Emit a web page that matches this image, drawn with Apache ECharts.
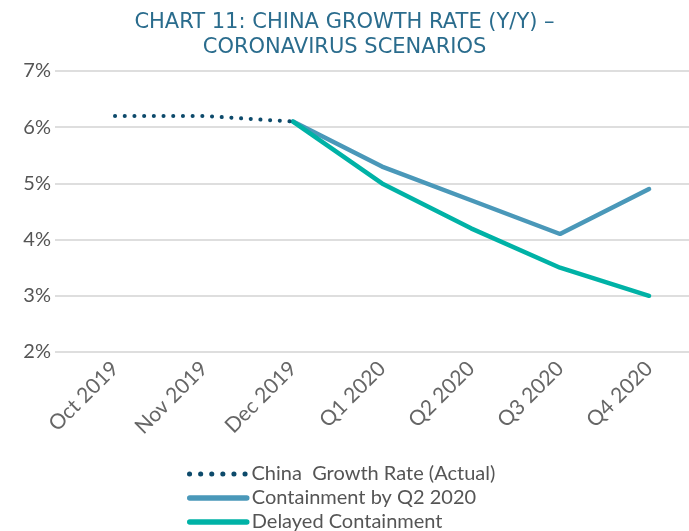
<!DOCTYPE html>
<html>
<head>
<meta charset="utf-8">
<script src="https://cdn.jsdelivr.net/npm/echarts@6/dist/echarts.min.js"></script>
<style>
  html, body { margin: 0; padding: 0; background: #fff; }
  #chart { width: 689px; height: 531px; }
</style>
</head>
<body>
<div id="chart"></div>
<script>
// categories + values
const categories = ['Oct 2019', 'Nov 2019', 'Dec 2019', 'Q1 2020', 'Q2 2020', 'Q3 2020', 'Q4 2020']
const actual = [6.2, 6.2, 6.1, null, null, null, null]
const containment = [null, null, 6.1, 5.3, 4.7, 4.1, 4.9]
const delayed = [null, null, 6.1, 5.0, 4.2, 3.5, 3.0]
const yTicks = [2, 3, 4, 5, 6, 7]
const seriesNames = ['China  Growth Rate (Actual)', 'Containment by Q2 2020', 'Delayed Containment']
const colors = ['#0d4a6b', '#4a98b9', '#00b2a6']

const font = 'Lato, "Noto Sans", sans-serif'

// value x axis so the grid lines can run past the first/last point like the original
const toPairs = arr => arr.map((v, i) => [i, v]).filter(p => p[1] != null)

// one legend per row, otherwise echarts wraps them into columns at the bottom edge
const legends = seriesNames.map((name, i) => ({
  orient: 'vertical',
  left: 182,
  top: 459 + i * 24,
  itemWidth: 57,
  itemHeight: 6,
  itemGap: 0,
  itemStyle: { opacity: 0 },
  lineStyle: i === 0
    ? { width: 5, type: [0.1, 11], cap: 'round' }
    : { width: 5.5, cap: 'round' },
  textStyle: { fontFamily: font, fontSize: 20, color: '#555', padding: 0 },
  data: [name]
}))

const chart = echarts.init(document.getElementById('chart'), null, { renderer: 'canvas' })
chart.setOption({
  animation: false,
  title: {
    text: 'CHART 11: CHINA GROWTH RATE (Y/Y) \u2013\nCORONAVIRUS SCENARIOS',
    left: 'center',
    top: 5,
    textStyle: {
      fontFamily: '"DejaVu Sans", sans-serif',
      fontWeight: 'normal',
      fontSize: 21,
      lineHeight: 25,
      color: '#2a6c8d'
    }
  },
  legend: legends,
  grid: { left: 55, right: 0, top: 71, bottom: 179 },
  xAxis: {
    type: 'value',
    min: -0.674,
    max: 6.449,
    splitLine: { show: false },
    axisLine: { show: false },
    axisTick: { show: false },
    axisLabel: {
      customValues: categories.map((c, i) => i),
      formatter: v => categories[v] || '',
      rotate: 45,
      margin: 13,
      fontFamily: font,
      fontSize: 21,
      color: '#666'
    }
  },
  yAxis: {
    type: 'value',
    min: yTicks[0],
    max: yTicks[yTicks.length - 1],
    interval: 1,
    axisLine: { show: false },
    axisTick: { show: false },
    axisLabel: {
      formatter: '{value}%',
      margin: 4,
      fontFamily: font,
      fontSize: 20,
      color: '#555'
    },
    splitLine: { lineStyle: { color: '#dedede', width: 2 } }
  },
  series: [
    {
      name: seriesNames[0],
      type: 'line',
      symbol: 'none',
      z: 3,
      data: toPairs(actual),
      lineStyle: { color: colors[0], width: 4, type: [0.1, 9.6], cap: 'round' },
      itemStyle: { color: colors[0] }
    },
    {
      name: seriesNames[1],
      type: 'line',
      symbol: 'none',
      z: 2,
      data: toPairs(containment),
      lineStyle: { color: colors[1], width: 4.5, cap: 'round' },
      itemStyle: { color: colors[1] }
    },
    {
      name: seriesNames[2],
      type: 'line',
      symbol: 'none',
      z: 2,
      data: toPairs(delayed),
      lineStyle: { color: colors[2], width: 4.5, cap: 'round' },
      itemStyle: { color: colors[2] }
    }
  ]
})
</script>
</body>
</html>
